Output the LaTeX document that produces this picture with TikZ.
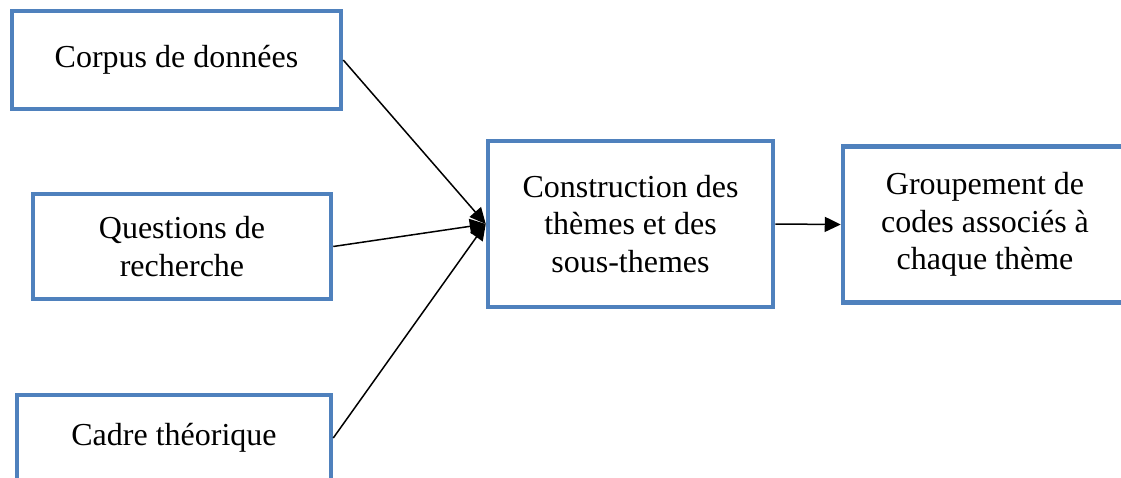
\documentclass[tikz,border=0pt]{standalone}
\usepackage{fontspec}
\setmainfont{Liberation Serif}
\usepackage{xcolor}
\usetikzlibrary{shapes,arrows,arrows.meta,positioning,calc}
\definecolor{cadreblue}{RGB}{79,129,189}

\tikzset{
    etape/.style={draw=cadreblue, line width=4.5pt, fill=white, align=center,
        inner sep=0pt, font=\fontsize{32}{37.5}\selectfont},
    fleche/.style={line width=1.5pt, -{Triangle[length=16pt,width=15pt]}}
}

\begin{document}
\begin{tikzpicture}[x=1pt, y=-1pt]
    \useasboundingbox (0,0) rectangle (1121,477);
    % Sources on the left
    \node[etape, minimum width=329pt, minimum height=98pt] (corpus) at (176.5,60) {Corpus de données};
    \node[etape, minimum width=298pt, minimum height=105pt] (questions) at (182,246.5) {Questions de\\recherche};
    \node[etape, minimum width=314pt, minimum height=86pt] (cadre) at (174,438) {Cadre théorique};
    % Central step and result
    \node[etape, minimum width=285pt, minimum height=166pt] (construction) at (630.5,224) {Construction des\\thèmes et des\\sous-themes};
    \node[etape, minimum width=284pt, minimum height=156pt] (groupement) at (985,224.5) {Groupement de\\codes associés à\\chaque thème};
    % Connectors
    \foreach \src in {corpus,questions,cadre} {
        \draw[fleche] (\src.east) -- (construction.west);
    }
    \draw[fleche] (construction.east) -- (groupement.west);
\end{tikzpicture}
\end{document}
